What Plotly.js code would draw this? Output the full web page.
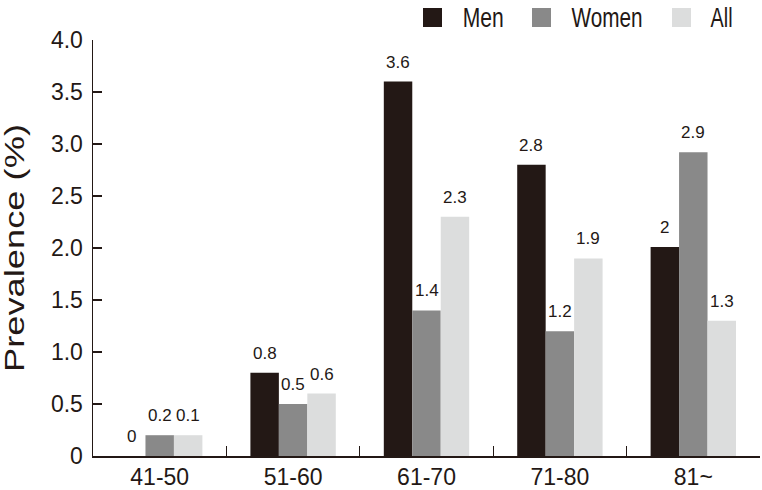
<!DOCTYPE html>
<html>
<head>
<meta charset="utf-8">
<script src="https://cdn.plot.ly/plotly-3.0.1.min.js"></script>
<style>html,body{margin:0;padding:0;background:#fff;}#chart{width:762px;height:490px;}</style>
</head>
<body>
<div id="chart"></div>
<script>
// ---- data ----
const categories = ['41-50', '51-60', '61-70', '71-80', '81~'];
const seriesNames = ['Men', 'Women', 'All'];
const menValues = [0, 0.8, 3.6, 2.8, 2.01];
const womenValues = [0.2, 0.5, 1.4, 1.2, 2.92];
const allValues = [0.2, 0.6, 2.3, 1.9, 1.3];
const menLabels = ['0', '0.8', '3.6', '2.8', '2'];
const womenLabels = ['0.2', '0.5', '1.4', '1.2', '2.9'];
const allLabels = ['0.1', '0.6', '2.3', '1.9', '1.3'];
const yTickVals = [0, 0.5, 1.0, 1.5, 2.0, 2.5, 3.0, 3.5, 4.0];
const yTickText = ['0', '0.5', '1.0', '1.5', '2.0', '2.5', '3.0', '3.5', '4.0'];
const yTitle = 'Prevalence (%)';

// ---- style ----
const colors = ['#231815', '#898989', '#dcdddd'];
const ink = '#231815';
const baseFont = 'Liberation Sans, Arial, sans-serif';
const bargap = 0.36;
const M = {l: 93, r: 2, t: 40, b: 34};
const W = 762, H = 490;
const pw = W - M.l - M.r, ph = H - M.t - M.b;
const px = x => (x - M.l) / pw;
const py = y => (H - M.b - y) / ph;

const values = [menValues, womenValues, allValues];
const labels = [menLabels, womenLabels, allLabels];

const traces = values.map((v, k) => ({
  type: 'bar',
  name: seriesNames[k],
  x: categories,
  y: v,
  marker: {color: colors[k], line: {width: 0}},
  showlegend: false,
  hoverinfo: 'x+y+name'
}));

const barW = (1 - bargap) / 3;
const annotations = [];
values.forEach((v, k) => {
  v.forEach((val, i) => {
    annotations.push({
      x: i + (k - 1) * barW, xref: 'x',
      y: val, yref: 'y',
      text: labels[k][i],
      showarrow: false,
      yanchor: 'bottom', xanchor: 'center',
      yshift: 8,
      font: {family: baseFont, size: 17, color: ink}
    });
  });
});

// custom legend (large squares, condensed text)
const legendSquares = [423, 532, 672];
const legendTextLeft = [462, 571, 710];
const legendTextWidth = [41, 71, 22];
const shapes = [];
seriesNames.forEach((n, k) => {
  shapes.push({
    type: 'rect', xref: 'paper', yref: 'paper',
    x0: px(legendSquares[k]), x1: px(legendSquares[k] + 19),
    y0: py(27), y1: py(8),
    fillcolor: colors[k], line: {width: 0}
  });
  annotations.push({
    xref: 'paper', yref: 'paper',
    x: px(legendTextLeft[k] + legendTextWidth[k] / 2), y: py(17.5),
    xanchor: 'center', yanchor: 'middle',
    text: n, showarrow: false,
    font: {family: baseFont, size: 28, color: ink}
  });
});

const layout = {
  width: W, height: H,
  margin: M,
  paper_bgcolor: '#fff', plot_bgcolor: '#fff',
  barmode: 'group', bargap: bargap, bargroupgap: 0,
  showlegend: false,
  xaxis: {
    type: 'category',
    showline: true, linecolor: ink, linewidth: 1.5,
    ticks: 'inside', tickson: 'boundaries', ticklen: 10, tickwidth: 1.2, tickcolor: ink,
    showgrid: false, zeroline: false,
    tickfont: {family: baseFont, size: 23, color: ink},
    fixedrange: true
  },
  yaxis: {
    range: [0, 4],
    showline: true, linecolor: ink, linewidth: 1.5,
    ticks: 'inside', ticklen: 9, tickwidth: 1.2, tickcolor: ink,
    tickvals: yTickVals, ticktext: yTickText,
    showgrid: false, zeroline: false,
    tickfont: {family: baseFont, size: 23, color: ink},
    ticklabelstandoff: 4,
    title: {text: yTitle, font: {family: baseFont, size: 27, color: ink}, standoff: 26},
    fixedrange: true
  },
  annotations: annotations,
  shapes: shapes,
  font: {family: baseFont, color: ink}
};

Plotly.newPlot('chart', traces, layout, {displayModeBar: false, staticPlot: true}).then(gd => {
  // condense legend text horizontally, stretch axis title length, as in the reference
  gd.querySelectorAll('.annotation-text').forEach(t => {
    const k = seriesNames.indexOf(t.textContent);
    if (k >= 0) {
      t.setAttribute('textLength', legendTextWidth[k]);
      t.setAttribute('lengthAdjust', 'spacingAndGlyphs');
    }
  });
  const yt = gd.querySelector('.ytitle');
  if (yt) {
    yt.setAttribute('textLength', 248);
    yt.setAttribute('lengthAdjust', 'spacingAndGlyphs');
  }
});
</script>
</body>
</html>
